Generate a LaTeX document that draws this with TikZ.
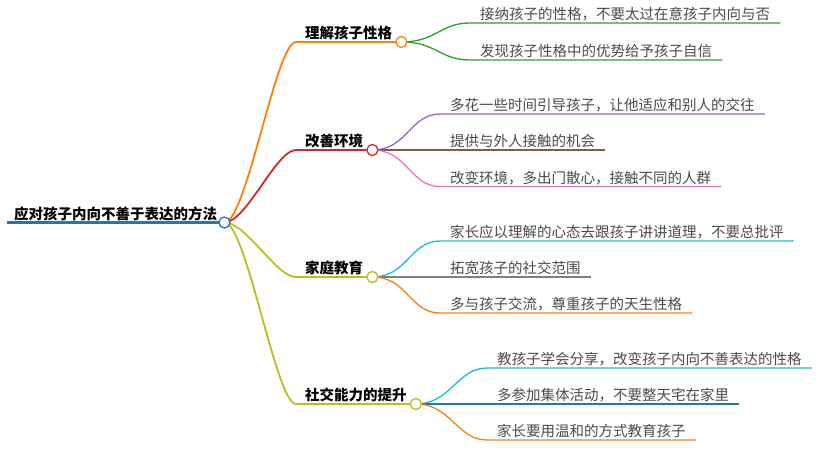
\documentclass[tikz,border=0pt]{standalone}
\usepackage{fontspec}
\newfontfamily\cjk{Noto Sans CJK SC}
\usetikzlibrary{backgrounds}
\definecolor{tblue}{HTML}{1F77B4}
\definecolor{torange}{HTML}{FF7F0E}
\definecolor{tgreen}{HTML}{2CA02C}
\definecolor{tred}{HTML}{D62728}
\definecolor{tpurple}{HTML}{9467BD}
\definecolor{tbrown}{HTML}{8C564B}
\definecolor{tpink}{HTML}{E377C2}
\definecolor{tgray}{HTML}{7F7F7F}
\definecolor{tolive}{HTML}{BCBD22}
\definecolor{tcyan}{HTML}{17BECF}
\definecolor{txtgray}{HTML}{4A4A4A}
\begin{document}
\begin{tikzpicture}[x=1pt,y=-1pt,
  leaf/.style={anchor=south west, inner xsep=10pt, inner ysep=0pt, text height=11pt, text depth=3pt,
    font=\cjk\fontsize{14.5pt}{17pt}\selectfont, text=txtgray},
  lbl/.style={anchor=south west, inner xsep=9pt, inner ysep=0pt, text height=11pt, text depth=3pt,
    font=\cjk\bfseries\fontsize{14.5pt}{17pt}\selectfont, text=black},
  knot/.style={circle, draw, fill=white, minimum size=11pt, inner sep=0pt, line width=1.3pt},
  bw/.style={line width=1.8pt},
  lw/.style={line width=1.3pt}]
\useasboundingbox (0,0) rectangle (820,452);

% root
\node[lbl, inner xsep=7pt] (root) at (7,222.5) {应对孩子内向不善于表达的方法};
\node[knot, draw=tblue] (r) at (root.south east) {};

% branch labels
\node[lbl] (l1) at (296,42) {理解孩子性格};
\node[lbl] (l2) at (296,150) {改善环境};
\node[lbl] (l3) at (296,277) {家庭教育};
\node[lbl] (l4) at (296,404) {社交能力的提升};
\node[knot, draw=torange] (b1) at (l1.south east) {};
\node[knot, draw=tred] (b2) at (l2.south east) {};
\node[knot, draw=tolive] (b3) at (l3.south east) {};
\node[knot, draw=tolive] (b4) at (l4.south east) {};

% leaves
\node[leaf] (c11) at (470,23) {接纳孩子的性格，不要太过在意孩子内向与否};
\node[leaf] (c12) at (470,60) {发现孩子性格中的优势给予孩子自信};
\node[leaf] (c21) at (440,114) {多花一些时间引导孩子，让他适应和别人的交往};
\node[leaf] (c22) at (440,150) {提供与外人接触的机会};
\node[leaf] (c23) at (440,186.5) {改变环境，多出门散心，接触不同的人群};
\node[leaf] (c31) at (440,241) {家长应以理解的心态去跟孩子讲讲道理，不要总批评};
\node[leaf] (c32) at (440,277) {拓宽孩子的社交范围};
\node[leaf] (c33) at (440,313) {多与孩子交流，尊重孩子的天生性格};
\node[leaf] (c41) at (487,368) {教孩子学会分享，改变孩子内向不善表达的性格};
\node[leaf] (c42) at (487,404) {多参加集体活动，不要整天宅在家里};
\node[leaf] (c43) at (487,440) {家长要用温和的方式教育孩子};

\begin{scope}[on background layer]
  \draw[tblue, line width=3.5pt] (root.south west) -- (r.center);
  \draw[torange, bw] (r.center) .. controls +(22,0) and +(-20,0) .. (l1.south west) -- (b1.center);
  \draw[tred, bw] (r.center) .. controls +(22,0) and +(-20,0) .. (l2.south west) -- (b2.center);
  \draw[tolive, bw] (r.center) .. controls +(22,0) and +(-20,0) .. (l3.south west) -- (b3.center);
  \draw[tolive, bw] (r.center) .. controls +(22,0) and +(-20,0) .. (l4.south west) -- (b4.center);

  \draw[tgreen, lw] (b1.center) .. controls +(35,0) and +(-30,0) .. (c11.south west) -- (c11.south east);
  \draw[tgreen, lw] (b1.center) .. controls +(35,0) and +(-30,0) .. (c12.south west) -- (c12.south east);
  \draw[tpurple, lw] (b2.center) .. controls +(35,0) and +(-30,0) .. (c21.south west) -- (c21.south east);
  \draw[tbrown, lw] (b2.center) -- (c22.south west) -- (c22.south east);
  \draw[tpink, lw] (b2.center) .. controls +(35,0) and +(-30,0) .. (c23.south west) -- (c23.south east);
  \draw[tcyan, lw] (b3.center) .. controls +(35,0) and +(-30,0) .. (c31.south west) -- (c31.south east);
  \draw[tgray, lw] (b3.center) -- (c32.south west) -- (c32.south east);
  \draw[torange, lw] (b3.center) .. controls +(35,0) and +(-30,0) .. (c33.south west) -- (c33.south east);
  \draw[tcyan, lw] (b4.center) .. controls +(35,0) and +(-30,0) .. (c41.south west) -- (c41.south east);
  \draw[tblue, lw] (b4.center) -- (c42.south west) -- (c42.south east);
  \draw[torange, lw] (b4.center) .. controls +(35,0) and +(-30,0) .. (c43.south west) -- (c43.south east);
\end{scope}
\end{tikzpicture}
\end{document}
